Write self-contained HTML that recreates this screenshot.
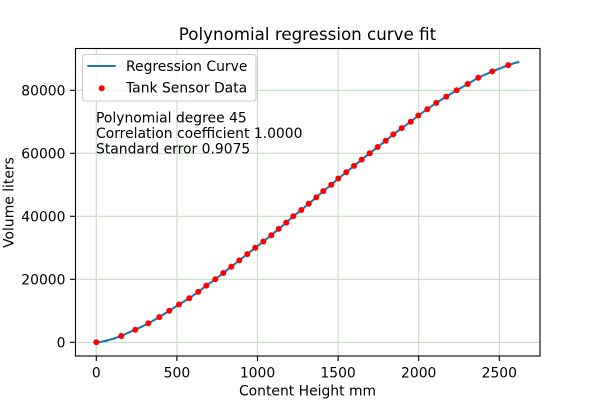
<!DOCTYPE html>
<html>
<head>
<meta charset="utf-8">
<style>
html,body{margin:0;padding:0;background:#fff;}
svg{display:block;}
text{font-family:"DejaVu Sans","Liberation Sans",sans-serif;fill:#000;}
</style>
</head>
<body>
<svg width="600" height="400" viewBox="0 0 600 400" xmlns="http://www.w3.org/2000/svg">
<rect x="0" y="0" width="600" height="400" fill="#fff"/>
<!-- grid -->
<g stroke="#bfdfbf" stroke-width="1.1">
<line x1="96.3" y1="48" x2="96.3" y2="356"/>
<line x1="176.9" y1="48" x2="176.9" y2="356"/>
<line x1="257.5" y1="48" x2="257.5" y2="356"/>
<line x1="338.1" y1="48" x2="338.1" y2="356"/>
<line x1="418.7" y1="48" x2="418.7" y2="356"/>
<line x1="499.3" y1="48" x2="499.3" y2="356"/>
<line x1="75" y1="342.3" x2="540" y2="342.3"/>
<line x1="75" y1="279.3" x2="540" y2="279.3"/>
<line x1="75" y1="216.3" x2="540" y2="216.3"/>
<line x1="75" y1="153.3" x2="540" y2="153.3"/>
<line x1="75" y1="90.3" x2="540" y2="90.3"/>
</g>
<!-- curve -->
<polyline fill="none" stroke="#1f77b4" stroke-width="2.1" stroke-linejoin="round" stroke-linecap="butt"
points="96.3,342.3 102,341.7 108,340.3 114,338.5 121.3,336 128,332.8 135.3,329.7 148.3,323.4 159.3,317.1 169.3,310.8 179,304.5 189.3,298.2 198.3,291.9 206.3,285.6 215.3,279.3 223.3,273 231.3,266.7 239.3,260.4 247.3,254.1 255.3,247.8 263.3,241.5 271.3,235.2 278.7,228.9 286.3,222.6 293.3,216.3 301.3,210 308.7,203.7 316.3,197.4 323.3,191.1 331.3,184.8 338.3,178.5 346.3,172.2 354,165.9 361.7,159.6 369.7,153.3 377.7,147 385.7,140.7 393.3,134.4 401.7,128.1 410.7,121.8 418.3,115.5 427.3,109.2 436.3,102.9 446.3,96.6 456.7,90.3 467.7,84 478.3,77.7 492.3,71.4 508.3,65.1 514,63.2 519.3,61.8"/>
<!-- dots -->
<g fill="#ff0000">
<circle cx="96.3" cy="342.3" r="3"/><circle cx="121.3" cy="336" r="3"/><circle cx="135.3" cy="329.7" r="3"/><circle cx="148.3" cy="323.4" r="3"/><circle cx="159.3" cy="317.1" r="3"/><circle cx="169.3" cy="310.8" r="3"/><circle cx="179" cy="304.5" r="3"/><circle cx="189.3" cy="298.2" r="3"/><circle cx="198.3" cy="291.9" r="3"/><circle cx="206.3" cy="285.6" r="3"/><circle cx="215.3" cy="279.3" r="3"/><circle cx="223.3" cy="273" r="3"/><circle cx="231.3" cy="266.7" r="3"/><circle cx="239.3" cy="260.4" r="3"/><circle cx="247.3" cy="254.1" r="3"/><circle cx="255.3" cy="247.8" r="3"/><circle cx="263.3" cy="241.5" r="3"/><circle cx="271.3" cy="235.2" r="3"/><circle cx="278.7" cy="228.9" r="3"/><circle cx="286.3" cy="222.6" r="3"/><circle cx="293.3" cy="216.3" r="3"/><circle cx="301.3" cy="210" r="3"/><circle cx="308.7" cy="203.7" r="3"/><circle cx="316.3" cy="197.4" r="3"/><circle cx="323.3" cy="191.1" r="3"/><circle cx="331.3" cy="184.8" r="3"/><circle cx="338.3" cy="178.5" r="3"/><circle cx="346.3" cy="172.2" r="3"/><circle cx="354" cy="165.9" r="3"/><circle cx="361.7" cy="159.6" r="3"/><circle cx="369.7" cy="153.3" r="3"/><circle cx="377.7" cy="147" r="3"/><circle cx="385.7" cy="140.7" r="3"/><circle cx="393.3" cy="134.4" r="3"/><circle cx="401.7" cy="128.1" r="3"/><circle cx="410.7" cy="121.8" r="3"/><circle cx="418.3" cy="115.5" r="3"/><circle cx="427.3" cy="109.2" r="3"/><circle cx="436.3" cy="102.9" r="3"/><circle cx="446.3" cy="96.6" r="3"/><circle cx="456.7" cy="90.3" r="3"/><circle cx="467.7" cy="84" r="3"/><circle cx="478.3" cy="77.7" r="3"/><circle cx="492.3" cy="71.4" r="3"/><circle cx="508.3" cy="65.1" r="3"/>
</g>
<!-- spines -->
<rect x="75.5" y="48.5" width="464.5" height="307.5" fill="none" stroke="#000" stroke-width="1.1"/>
<!-- ticks -->
<g stroke="#000" stroke-width="1.1">
<line x1="96.3" y1="356" x2="96.3" y2="361"/>
<line x1="176.9" y1="356" x2="176.9" y2="361"/>
<line x1="257.5" y1="356" x2="257.5" y2="361"/>
<line x1="338.1" y1="356" x2="338.1" y2="361"/>
<line x1="418.7" y1="356" x2="418.7" y2="361"/>
<line x1="499.3" y1="356" x2="499.3" y2="361"/>
<line x1="70" y1="342.3" x2="75" y2="342.3"/>
<line x1="70" y1="279.3" x2="75" y2="279.3"/>
<line x1="70" y1="216.3" x2="75" y2="216.3"/>
<line x1="70" y1="153.3" x2="75" y2="153.3"/>
<line x1="70" y1="90.3" x2="75" y2="90.3"/>
</g>
<!-- tick labels -->
<g font-size="13.9" text-anchor="middle">
<text x="96.3" y="377.5">0</text>
<text x="176.9" y="377.5">500</text>
<text x="257.5" y="377.5">1000</text>
<text x="338.1" y="377.5">1500</text>
<text x="418.7" y="377.5">2000</text>
<text x="499.3" y="377.5">2500</text>
</g>
<g font-size="13.9" text-anchor="end">
<text x="65.5" y="347.3">0</text>
<text x="65.5" y="284.3">20000</text>
<text x="65.5" y="221.3">40000</text>
<text x="65.5" y="158.3">60000</text>
<text x="65.5" y="95.3">80000</text>
</g>
<!-- axis labels -->
<text x="307.5" y="395.5" font-size="13.9" text-anchor="middle">Content Height mm</text>
<text transform="translate(13.5,202.5) rotate(-90)" font-size="13.9" text-anchor="middle">Volume liters</text>
<!-- title -->
<text x="307.5" y="40" font-size="16.7" text-anchor="middle">Polynomial regression curve fit</text>
<!-- legend -->
<rect x="82.5" y="54.5" width="173.5" height="46.5" rx="2.8" ry="2.8" fill="#fff" fill-opacity="0.8" stroke="#cccccc" stroke-width="1.1"/>
<line x1="87.3" y1="66" x2="115.7" y2="66" stroke="#1f77b4" stroke-width="2.1"/>
<circle cx="101.7" cy="88.3" r="3" fill="#ff0000"/>
<text x="126" y="71" font-size="13.9">Regression Curve</text>
<text x="126" y="92.5" font-size="13.9">Tank Sensor Data</text>
<!-- annotation -->
<g font-size="13.9">
<text x="96" y="122.3">Polynomial degree 45</text>
<text x="96" y="138">Correlation coefficient 1.0000</text>
<text x="96" y="153.5">Standard error 0.9075</text>
</g>
</svg>
</body>
</html>
